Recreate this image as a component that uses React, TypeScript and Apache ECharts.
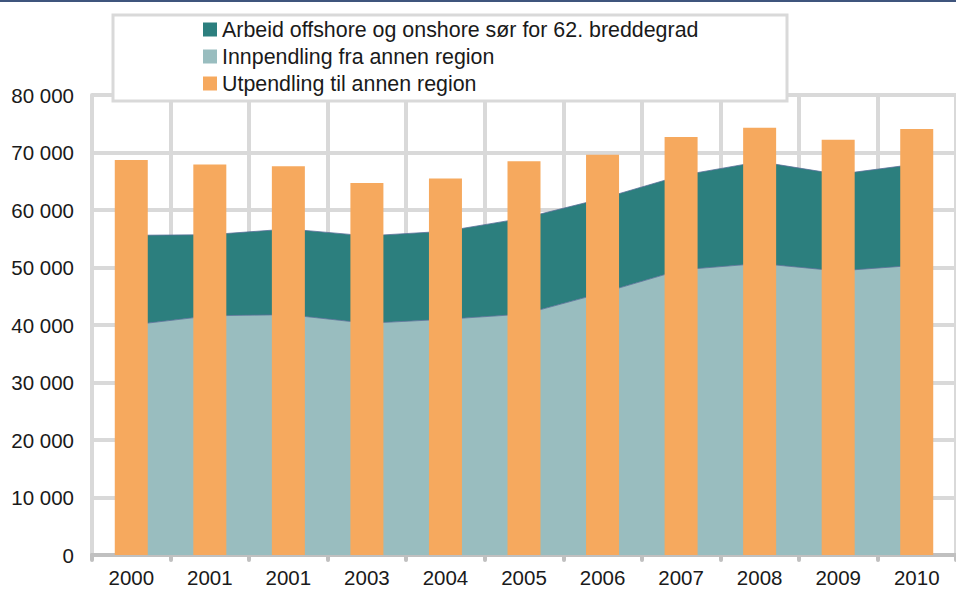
import React, { useEffect, useRef } from "react";
import * as echarts from "echarts";

const categories = ["2000", "2001", "2001", "2003", "2004", "2005", "2006", "2007", "2008", "2009", "2010"];
const innpendling = [40000, 41600, 41800, 40300, 41000, 41900, 45600, 49600, 50700, 49400, 50400];
const arbeidOffshore = [15600, 14100, 14900, 15200, 15300, 16700, 16400, 16400, 17700, 16800, 17600];
const utpendling = [68700, 67900, 67600, 64700, 65500, 68500, 69600, 72700, 74300, 72200, 74100];

const NAME_ARBEID = "Arbeid offshore og onshore sør for 62. breddegrad";
const NAME_INN = "Innpendling fra annen region";
const NAME_UT = "Utpendling til annen region";

const FONT = "'Liberation Sans', Arial, sans-serif";

export default function App() {
  const ref = useRef<HTMLDivElement>(null);
  useEffect(() => {
    if (!ref.current) return;
    const chart = echarts.init(ref.current, undefined, { renderer: "svg" });
    chart.setOption({
      animation: false,
      backgroundColor: "#ffffff",
      textStyle: { fontFamily: FONT },
      grid: { left: 92, top: 95, width: 872, height: 460, containLabel: false },
      graphic: [
        { type: "rect", z: 100, shape: { x: 0, y: 0, width: 956, height: 2 }, style: { fill: "#3f557d" } },
        {
          type: "rect",
          z: 50,
          shape: { x: 113, y: 15, width: 674, height: 86 },
          style: { fill: "#ffffff", stroke: "#d9d9d9", lineWidth: 3 },
        },
      ],
      legend: {
        z: 60,
        orient: "vertical",
        left: 198,
        top: 14,
        itemWidth: 14,
        itemHeight: 14,
        itemGap: 6,
        icon: "rect",
        data: [NAME_ARBEID, NAME_INN, NAME_UT],
        textStyle: { fontFamily: FONT, fontSize: 21.4, color: "#1a1a1a" },
      },
      xAxis: {
        type: "category",
        data: categories,
        boundaryGap: true,
        axisLine: { show: true, lineStyle: { color: "#c0c0c0", width: 4 } },
        axisTick: { show: true, length: 5, lineStyle: { color: "#c0c0c0", width: 4, cap: "round" } },
        axisLabel: { fontFamily: FONT, fontSize: 20.5, color: "#1a1a1a", margin: 12, interval: 0 },
        splitLine: { show: true, lineStyle: { color: "#d9d9d9", width: 4 } },
      },
      yAxis: {
        type: "value",
        min: 0,
        max: 80000,
        interval: 10000,
        axisLine: { show: true, lineStyle: { color: "#d9d9d9", width: 4 } },
        axisTick: { show: false },
        axisLabel: {
          fontFamily: FONT,
          fontSize: 20.5,
          color: "#1a1a1a",
          margin: 18,
          formatter: (v: number) => (v === 0 ? "0" : `${v / 1000} 000`),
        },
        splitLine: { show: true, lineStyle: { color: "#d9d9d9", width: 4 } },
      },
      series: [
        {
          name: NAME_INN,
          type: "line",
          stack: "a",
          data: innpendling,
          color: "#99bdbf",
          symbol: "none",
          lineStyle: { color: "#5a7099", width: 0.8 },
          areaStyle: { color: "#99bdbf", opacity: 1 },
          z: 2,
        },
        {
          name: NAME_ARBEID,
          type: "line",
          stack: "a",
          data: arbeidOffshore,
          color: "#2c7f7e",
          symbol: "none",
          lineStyle: { color: "#5a7099", width: 0.8 },
          areaStyle: { color: "#2c7f7e", opacity: 1 },
          z: 2,
        },
        {
          name: NAME_UT,
          type: "bar",
          data: utpendling,
          color: "#f6a95e",
          barWidth: 33,
          z: 5,
        },
      ],
    });
    return () => chart.dispose();
  }, []);
  return <div ref={ref} style={{ position: "fixed", left: 0, top: 0, width: 956, height: 590 }} />;
}
